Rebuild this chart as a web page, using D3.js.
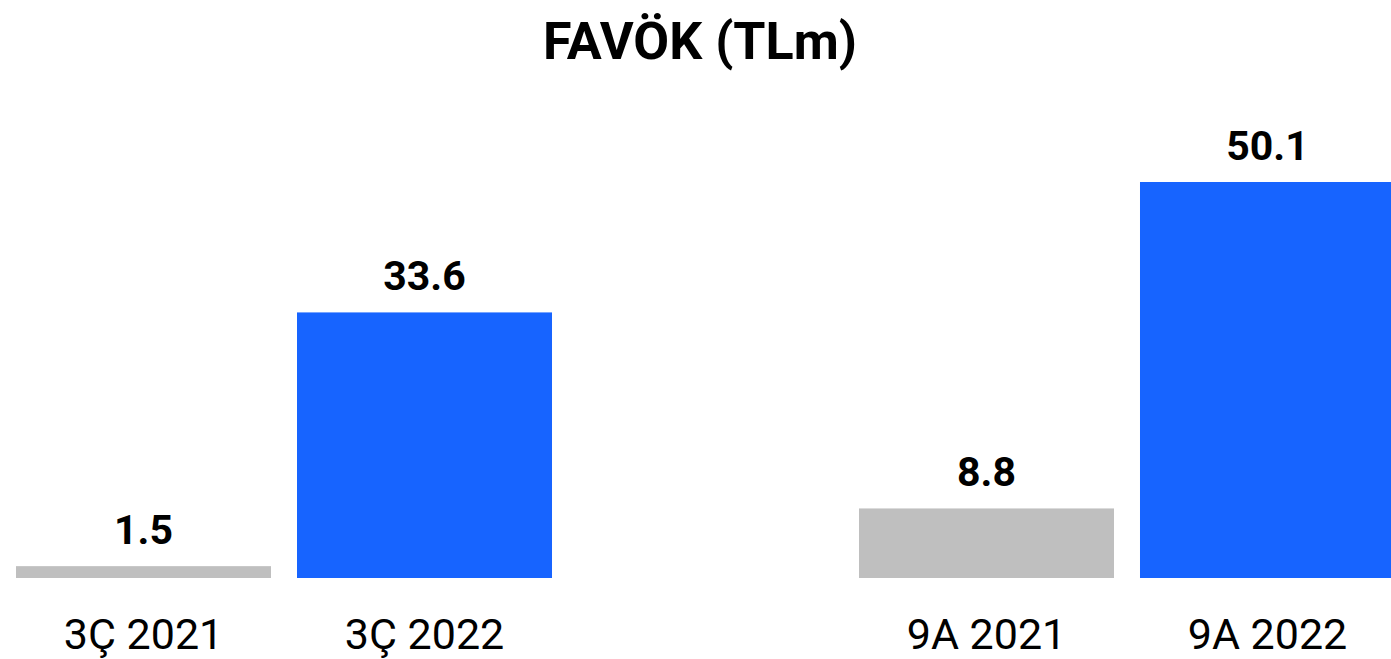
<!DOCTYPE html>
<html>
<head>
<meta charset="utf-8">
<script src="https://cdn.jsdelivr.net/npm/d3@7"></script>
<style>
  body { margin: 0; background: #fff; }
  svg { display: block; font-family: Roboto, "Noto Sans", sans-serif; }
</style>
</head>
<body>
<script>
const width = 1391;
const height = 659;

const title = "FAVÖK (TLm)";
const categories = ["3Ç 2021", "3Ç 2022", "9A 2021", "9A 2022"];
const values = [1.5, 33.6, 8.8, 50.1];
const valueLabels = ["1.5", "33.6", "8.8", "50.1"];
const barColors = ["#bfbfbf", "#1764ff", "#bfbfbf", "#1764ff"];
// empty slot between the quarter and nine-month groups
const slots = ["3Ç 2021", "3Ç 2022", "gap", "9A 2021", "9A 2022"];

const baseline = 578;

const svg = d3.select('body').append('svg')
    .attr('width', width)
    .attr('height', height);

const x = d3.scaleBand()
    .domain(slots)
    .range([16, 1395])
    .paddingInner(0.0925)
    .paddingOuter(0);

const y = d3.scaleLinear()
    .domain([0, 50.1])
    .range([baseline, 182]);

svg.append('text')
    .attr('x', 700)
    .attr('y', 59)
    .attr('text-anchor', 'middle')
    .attr('font-size', 52)
    .attr('font-weight', 'bold')
    .attr('fill', '#000')
    .text(title);

const data = categories.map((c, i) => ({cat: c, value: values[i], label: valueLabels[i], color: barColors[i]}));

svg.selectAll('rect.bar')
    .data(data)
    .enter().append('rect')
    .attr('class', 'bar')
    .attr('x', d => x(d.cat))
    .attr('y', d => y(d.value))
    .attr('width', x.bandwidth())
    .attr('height', d => baseline - y(d.value))
    .attr('fill', d => d.color);

svg.selectAll('text.value')
    .data(data)
    .enter().append('text')
    .attr('class', 'value')
    .attr('x', d => x(d.cat) + x.bandwidth() / 2)
    .attr('y', d => y(d.value) - 22)
    .attr('text-anchor', 'middle')
    .attr('font-size', 41)
    .attr('font-weight', 'bold')
    .attr('fill', '#000')
    .text(d => d.label);

const xAxis = d3.axisBottom(x)
    .tickValues(categories)
    .tickSize(0)
    .tickPadding(0);

const axisG = svg.append('g')
    .attr('transform', `translate(0,${baseline})`)
    .call(xAxis);

axisG.select('.domain').remove();
axisG.selectAll('text')
    .attr('font-family', 'Roboto, "Noto Sans", sans-serif')
    .attr('font-size', 43)
    .attr('fill', '#000')
    .attr('dy', null)
    .attr('y', 71);
</script>
</body>
</html>
